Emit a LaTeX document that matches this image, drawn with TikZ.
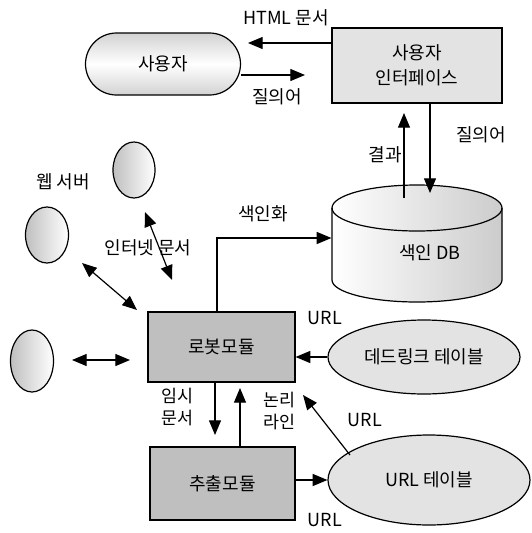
\documentclass[tikz,border=0pt]{standalone}
\usepackage{fontspec}
\setmainfont{Noto Sans CJK KR}
\usetikzlibrary{arrows.meta,shapes.geometric}
\begin{document}
\begin{tikzpicture}[x=0.75pt,y=-0.75pt,
  font=\fontsize{13.5}{19}\selectfont,
  line width=0.9pt,
  arr/.style={-{Triangle[length=11pt,width=9pt]}},
  darr/.style={{Triangle[length=11pt,width=9pt]}-{Triangle[length=11pt,width=9pt]}},
  lbl/.style={inner sep=0pt, align=center},
  lbl2/.style={inner sep=0pt, align=center, font=\fontsize{13}{16}\selectfont},
  sbox/.style={draw, rectangle, inner sep=0pt, align=center},
  wsv/.style={draw, ellipse, inner sep=0pt, left color=gray!50, right color=white},
  tbl/.style={draw, ellipse, inner sep=0pt, fill=gray!22}]
\useasboundingbox (0,0) rectangle (532,533);

% user
\node[draw, rounded corners=23.25pt, top color=gray!35, bottom color=gray!35, middle color=white,
      minimum width=155*0.75pt, minimum height=62*0.75pt, inner sep=0pt] (user) at (163,64) {사용자};
% user interface
\node[sbox, fill=gray!22, minimum width=170*0.75pt, minimum height=75*0.75pt] (ui) at (417,65.5) {사용자\\인터페이스};

% index DB cylinder
\node[minimum width=170*0.75pt, minimum height=117*0.75pt, inner sep=0pt] (db) at (417,243.5) {};
\draw[left color=white, right color=gray!40]
  (502,208) -- (502,280) arc[start angle=0, end angle=-180, x radius=63.75pt, y radius=16.5pt]
  -- (332,208) arc[start angle=180, end angle=0, x radius=63.75pt, y radius=17.25pt] -- cycle;
\draw (332,208) arc[start angle=180, end angle=360, x radius=63.75pt, y radius=17.25pt];
\node[lbl] (dbtxt) at (430,253) {색인 DB};

% web servers
\node[wsv, minimum width=42*0.75pt, minimum height=56*0.75pt] (ws1) at (134,170) {};
\node[wsv, minimum width=43*0.75pt, minimum height=56*0.75pt] (ws2) at (47,235) {};
\node[wsv, minimum width=43*0.75pt, minimum height=62*0.75pt] (ws3) at (32,361) {};

% modules
\node[sbox, fill=gray!50, minimum width=147*0.75pt, minimum height=70*0.75pt] (robot) at (221.5,347) {로봇모듈};
\node[sbox, fill=gray!50, minimum width=145*0.75pt, minimum height=73*0.75pt] (extract) at (222.5,483.5) {추출모듈};

% tables
\node[tbl, minimum width=192*0.75pt, minimum height=74*0.75pt] (dead) at (424,357) {데드링크 테이블};
\node[tbl, minimum width=202*0.75pt, minimum height=90*0.75pt] (urlt) at (429,480) {URL 테이블};

% coordinates
\coordinate (htmltip) at (248,43);
\coordinate (q1end) at (305,75);
\coordinate (q2end) at (430,193);
\coordinate (resS) at (404,198);
\coordinate (resE) at (404,113);
\coordinate (idxc) at (217,238);
\coordinate (a1s) at (145,212);
\coordinate (a1e) at (172,280);
\coordinate (a2s) at (82,263);
\coordinate (a2e) at (137,310);
\coordinate (a3s) at (72,360);
\coordinate (a3e) at (130,360);
\coordinate (dn) at (215,435);
\coordinate (up) at (240,388);
\coordinate (ds) at (350,455);
\coordinate (de) at (303,395);

% connectors
\draw[arr] (ui.west |- htmltip) -- (htmltip);
\draw[arr] (user.east |- q1end) -- (q1end);
\draw[arr] (ui.south -| q2end) -- (q2end);
\draw[arr] (resS) -- (resE);
\draw[arr] (robot.north -| idxc) -- (idxc) -- (db.west |- idxc);
\draw[darr] (a1s) -- (a1e);
\draw[darr] (a2s) -- (a2e);
\draw[darr] (a3s) -- (a3e);
\draw[arr] (robot.south -| dn) -- (dn);
\draw[arr] (extract.north -| up) -- (up);
\draw[arr] (dead.west) -- (robot.east |- dead.west);
\draw[arr] (extract.east |- urlt.west) -- (urlt.west);
\draw[arr] (ds) -- (de);

% labels
\node[lbl] (lhtml) at (286,18) {HTML 문서};
\node[lbl] (lq1) at (277,97) {질의어};
\node[lbl] (lq2) at (481,135) {질의어};
\node[lbl] (lres) at (385,155) {결과};
\node[lbl] (lidx) at (263,214) {색인화};
\node[lbl] (lweb) at (63,182) {웹 서버};
\node[lbl] (lnet) at (148,248) {인터넷 문서};
\node[lbl2] (ltmp) at (177,407) {임시\\문서};
\node[lbl2] (llog) at (279,411) {논리\\라인};
\node[lbl] (lurl1) at (325,318) {URL};
\node[lbl] (lurl2) at (365,420) {URL};
\node[lbl] (lurl3) at (325,520) {URL};
\end{tikzpicture}
\end{document}
